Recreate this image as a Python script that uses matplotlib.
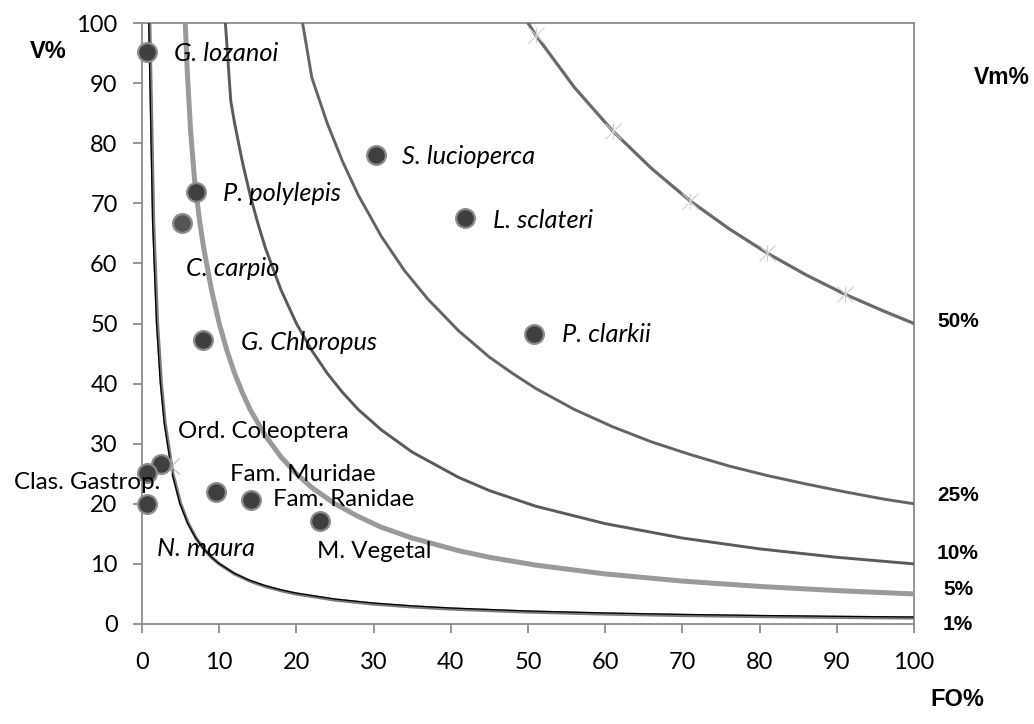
import matplotlib
matplotlib.use("Agg")
import matplotlib.pyplot as plt
import matplotlib.transforms as mtransforms

# ---------------- data ----------------
# iso-lines (Vm levels)
fo_1 = [1.0, 1.5, 2, 2.5, 3, 4, 5, 6, 7, 8, 9, 10, 12, 14, 16, 18, 20, 25, 30, 35, 40,
        50, 60, 70, 80, 90, 100]
v_1 = [100, 66.7, 50, 40, 33.3, 25, 20, 16.7, 14.3, 12.5, 11.1, 10, 8.33, 7.14, 6.25, 5.56,
       5, 4, 3.33, 2.86, 2.5, 2, 1.67, 1.43, 1.25, 1.11, 1]
fo_5 = [5.6, 5.9, 6.3, 6.8, 7.5, 8, 9, 10, 11, 12, 13, 14, 16, 18, 20, 22, 25, 28, 31, 35, 41,
        45, 51, 60, 70, 80, 90, 100]
v_5 = [100, 91, 82, 74, 66.7, 62.5, 55.6, 50, 45.5, 41.7, 38.5, 35.7, 31.3, 27.8, 25, 22.7,
       20, 17.9, 16.1, 14.3, 12.2, 11.1, 9.8, 8.33, 7.14, 6.25, 5.56, 5]
fo_10 = [10.8, 11.5, 12, 13, 14, 15, 16, 18, 20, 22, 24, 26, 28, 31, 35, 41, 45, 51, 60, 70,
         80, 90, 100]
v_10 = [100, 87, 83.3, 76.9, 71.4, 66.7, 62.5, 55.6, 50, 45.5, 41.7, 38.5, 35.7, 32.3, 28.6,
        24.4, 22.2, 19.6, 16.7, 14.3, 12.5, 11.1, 10]
fo_25 = [20.8, 22, 24, 26, 28, 31, 34, 37, 41, 45, 48, 51, 56, 61, 66, 71, 76, 81, 86, 91,
         96, 100]
v_25 = [100, 90.9, 83.3, 76.9, 71.4, 64.5, 58.8, 54.1, 48.8, 44.4, 41.7, 39.2, 35.7, 32.8,
        30.3, 28.2, 26.3, 24.7, 23.3, 22.0, 20.8, 20]
fo_50 = [50, 51, 56, 61, 66, 71, 76, 81, 86, 91, 96, 100]
v_50 = [100, 98.0, 89.3, 82.0, 75.8, 70.4, 65.8, 61.7, 58.1, 54.9, 52.1, 50]

star_fo_50 = [51, 61, 71, 81, 91]
star_v_50 = [98.0, 82.0, 70.4, 61.7, 54.9]
star_fo_1 = [3.7]
star_v_1 = [26.3]

curve_labels = ["50%", "25%", "10%", "5%", "1%"]
curve_label_v = [50.3, 21.3, 11.7, 5.7, 0.0]

prey_names = ["G. lozanoi", "P. polylepis", "C. carpio", "G. Chloropus", "S. lucioperca",
              "L. sclateri", "P. clarkii", "Ord. Coleoptera", "Clas. Gastrop.", "N. maura",
              "Fam. Muridae", "Fam. Ranidae", "M. Vegetal"]
prey_fo = [0.7, 7.0, 5.2, 7.9, 30.3, 41.8, 50.8, 2.4, 0.7, 0.7, 9.6, 14.1, 23.0]
prey_v = [95.1, 71.9, 66.8, 47.3, 78.0, 67.5, 48.2, 26.7, 25.1, 20.0, 21.9, 20.7, 17.2]
prey_italic = [True, True, True, True, True, True, True, False, False, True, False, False, False]

x_ticks = [0, 10, 20, 30, 40, 50, 60, 70, 80, 90, 100]
y_ticks = [0, 10, 20, 30, 40, 50, 60, 70, 80, 90, 100]

# label anchor positions (data coords) and alignment
label_pos = [(4.2, 95.0, 'left'), (10.5, 71.7, 'left'), (5.7, 59.2, 'left'),
             (12.8, 46.9, 'left'), (33.7, 77.8, 'left'), (45.5, 67.2, 'left'),
             (54.4, 48.1, 'left'), (4.6, 32.0, 'left'), (2.4, 23.5, 'right'),
             (2.0, 12.5, 'left'), (11.4, 24.8, 'left'), (17.0, 20.7, 'left'),
             (22.7, 12.0, 'left')]

# ---------------- figure ----------------
FONT = "Lato"
BOLD = "Liberation Sans"
fig = plt.figure(figsize=(10.34, 7.24), dpi=100)
ax = fig.add_axes([142 / 1034, 1 - 624 / 724, 772 / 1034, 601 / 724])
ax.set_xlim(0, 100)
ax.set_ylim(0, 100)

# iso-lines
ax.plot(fo_50, v_50, color="#6a6a6a", lw=2.3, zorder=3)
ax.plot(fo_25, v_25, color="#646464", lw=2.1, zorder=3)
ax.plot(fo_10, v_10, color="#5a5a5a", lw=2.1, zorder=3)
ax.plot(fo_5, v_5, color="#9a9a9a", lw=3.6, zorder=3)
ax.plot(fo_1, v_1, color="#7a7a7a", lw=2.4, zorder=3)
off = mtransforms.offset_copy(ax.transData, fig=fig, x=-1.0, y=1.0, units="dots")
ax.plot(fo_1, v_1, color="black", lw=0.9, zorder=3.1, transform=off)

for mk in ("x", "|"):
    ax.plot(star_fo_50, star_v_50, ls="none", marker=mk, ms=12, mew=0.8,
            color="#cfcfcf", zorder=3.5)
    ax.plot(star_fo_1, star_v_1, ls="none", marker=mk, ms=12, mew=0.8,
            color="#b8b8b8", zorder=3.5)

# prey points
face = ["#555555" if n == "C. carpio" else "#3f3f3f" for n in prey_names]
for fx, fy, fc in zip(prey_fo, prey_v, face):
    ax.plot([fx], [fy], ls="none", marker="o", ms=13.5, mfc=fc, mec="#8c8c8c",
            mew=1.6, zorder=5, clip_on=False)

for name, (lx, ly, ha), it in zip(prey_names, label_pos, prey_italic):
    ax.text(lx, ly, name, ha=ha, va="center", fontsize=18.3 if it else 17.3,
            family=FONT, style="italic" if it else "normal", color="black", zorder=6)

# spines / ticks
for s in ax.spines.values():
    s.set_color("#8c8c8c")
    s.set_linewidth(1.3)
ax.set_xticks(x_ticks)
ax.set_yticks(y_ticks)
ax.tick_params(axis="both", direction="out", length=6.5, width=1.3, color="#8c8c8c",
               labelsize=17, pad=11)
ax.tick_params(axis="x", pad=14)
for lab in ax.get_xticklabels() + ax.get_yticklabels():
    lab.set_family(FONT)
ax.tick_params(top=False, right=False)

# curve labels on the right
for txt, vy in zip(curve_labels, curve_label_v):
    ax.text(1.057, vy / 100, txt, transform=ax.transAxes, ha="center", va="center",
            fontsize=15, fontweight="bold", family=BOLD)

fig.text(1002 / 1034, 1 - 78 / 724, "Vm%", ha="center", va="center", fontsize=16.5,
         fontweight="bold", family=BOLD)
fig.text(48 / 1034, 1 - 52 / 724, "V%", ha="center", va="center", fontsize=17,
         fontweight="bold", family=BOLD)
fig.text(957 / 1034, 1 - 699 / 724, "FO%", ha="center", va="center", fontsize=17,
         fontweight="bold", family=BOLD)

fig.savefig("out.png", dpi=100, facecolor="white")
